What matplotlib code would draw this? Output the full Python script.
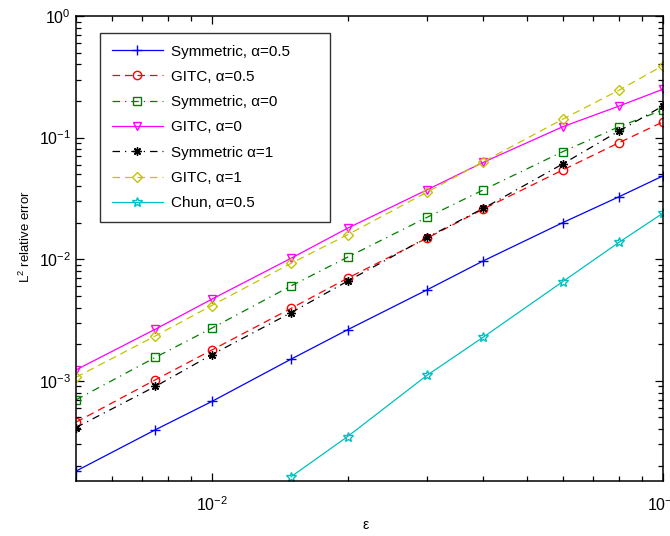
import numpy as np
import matplotlib
matplotlib.use('Agg')
import matplotlib.pyplot as plt
from matplotlib.ticker import LogLocator, NullFormatter

plt.rcParams['font.family'] = ['Liberation Sans', 'DejaVu Sans']
plt.rcParams['mathtext.fontset'] = 'custom'
plt.rcParams['mathtext.rm'] = 'Liberation Sans'
plt.rcParams['mathtext.it'] = 'Liberation Sans'

eps = [0.005, 0.0075, 0.01, 0.015, 0.02, 0.03, 0.04, 0.06, 0.08, 0.1]
eps_chun = [0.015, 0.02, 0.03, 0.04, 0.06, 0.08, 0.1]

sym_05 = [1.81e-4, 3.96e-4, 6.76e-4, 1.51e-3, 2.63e-3, 5.6e-3, 9.7e-3, 0.020, 0.0327, 0.0484]
gitc_05 = [4.57e-4, 1.02e-3, 1.79e-3, 3.95e-3, 6.98e-3, 0.0149, 0.0259, 0.0542, 0.091, 0.1345]
sym_0 = [6.98e-4, 1.56e-3, 2.71e-3, 6.04e-3, 0.0104, 0.0221, 0.0372, 0.0767, 0.123, 0.169]
gitc_0 = [1.23e-3, 2.66e-3, 4.69e-3, 0.0102, 0.018, 0.0372, 0.0627, 0.123, 0.182, 0.250]
sym_1 = [4.13e-4, 9.0e-4, 1.64e-3, 3.64e-3, 6.6e-3, 0.0151, 0.0262, 0.0608, 0.1135, 0.182]
gitc_1 = [1.07e-3, 2.34e-3, 4.16e-3, 9.27e-3, 0.0159, 0.0356, 0.0634, 0.142, 0.246, 0.391]
chun_05 = [1.63e-4, 3.48e-4, 1.11e-3, 2.29e-3, 6.55e-3, 0.0138, 0.0239]

fig = plt.figure(figsize=(6.7, 5.36), dpi=100)
ax = fig.add_axes([0.1134, 0.1026, 0.876, 0.8675])

lw = 0.9
ms = 6
ax.loglog(eps, sym_05, '-', color='b', marker='+', ms=ms + 1, lw=lw, label='Symmetric, α=0.5')
ax.loglog(eps, gitc_05, '--', color='r', marker='o', mfc='none', ms=ms, lw=lw, dashes=(6, 4), label='GITC, α=0.5')
ax.loglog(eps, sym_0, '-.', color='#008000', marker='s', mfc='none', ms=ms, lw=lw, dashes=(6, 4, 1, 4), label='Symmetric, α=0')
ax.loglog(eps, gitc_0, '-', color='#ff00ff', marker='v', mfc='none', ms=ms, lw=lw, label='GITC, α=0')
ax.loglog(eps, sym_1, '-.', color='k', marker=(8, 2, 0), ms=ms, lw=lw, dashes=(6, 4, 1, 4), label='Symmetric α=1')
ax.loglog(eps, gitc_1, '--', color='#c4c400', marker='D', mfc='none', ms=ms - 1, lw=lw, dashes=(6, 4), label='GITC, α=1')
ax.loglog(eps_chun, chun_05, '-', color='#00c0c0', marker='*', mfc='none', ms=ms + 1, lw=lw, label='Chun, α=0.5')

ax.set_xlim(0.005, 0.1)
ax.set_ylim(1.5e-4, 1)

ax.xaxis.set_major_locator(LogLocator(base=10, numticks=10))
ax.yaxis.set_major_locator(LogLocator(base=10, numticks=10))
ax.xaxis.set_minor_locator(LogLocator(base=10, subs=np.arange(2, 10), numticks=20))
ax.yaxis.set_minor_locator(LogLocator(base=10, subs=np.arange(2, 10), numticks=20))
ax.xaxis.set_minor_formatter(NullFormatter())
ax.yaxis.set_minor_formatter(NullFormatter())
ax.tick_params(which='both', direction='in', top=True, right=True, labelsize=11.5)
ax.tick_params(which='major', length=6, width=0.9)
ax.tick_params(which='minor', length=3.5, width=0.9)
ax.tick_params(axis='x', pad=10)
for sp in ax.spines.values():
    sp.set_linewidth(1.1)

ax.set_xlabel('ε', fontsize=10)
ax.xaxis.set_label_coords(0.494, -0.080)
ax.set_ylabel('L$^2$ relative error', fontsize=9.5)
ax.yaxis.set_label_coords(-0.087, 0.525)
ax.yaxis.label.set_va('center')

leg = ax.legend(loc='upper left', bbox_to_anchor=(0.041, 0.0, 0.392, 0.9634), mode='expand',
                borderaxespad=0, fancybox=False, edgecolor='k', fontsize=11, handlelength=3.4,
                handletextpad=0.5, labelspacing=0.74, borderpad=0.75)
leg.get_frame().set_linewidth(1.0)

fig.savefig('out.png', dpi=100)
